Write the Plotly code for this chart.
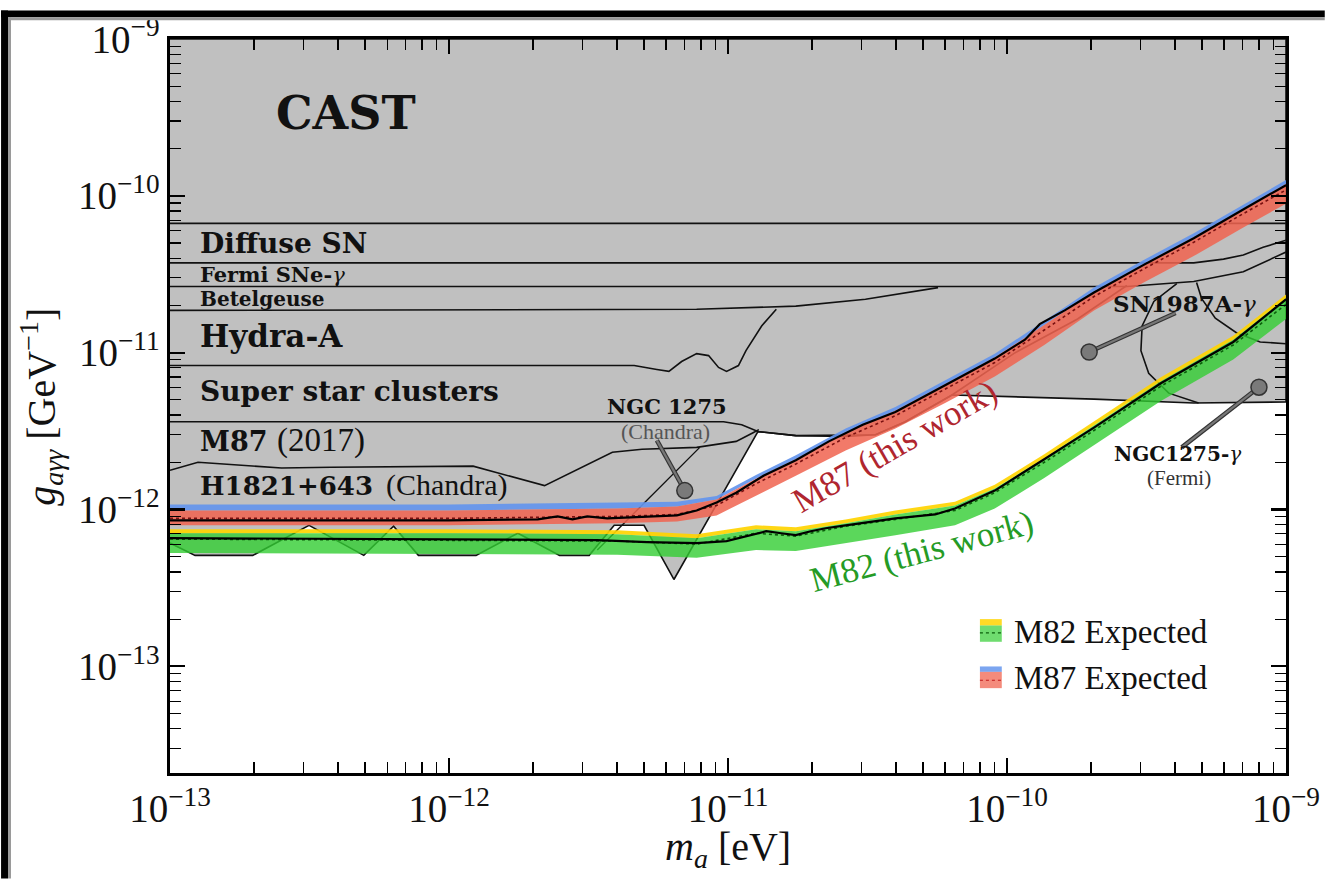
import numpy as np
import plotly.graph_objects as go

# ---------------- data (mass in eV, coupling in GeV^-1) ----------------
# grey excluded envelope (union of astrophysical / CAST bounds)
excl_mass = [1e-13, 1e-9, 1e-9, 4.67e-10, 2.05e-10, 6.35e-11, 4.32e-11, 3.38e-11, 2.64e-11,
             1.75e-11, 1.28e-11, 6.40e-12, 5.0e-12, 3.91e-12, 3.18e-12, 2.49e-12, 1.765e-12,
             1.25e-12, 7.77e-13, 6.33e-13, 4.95e-13, 3.15e-13, 1.98e-13, 1.23e-13, 1e-13]
excl_g = [1e-9, 1e-9, 4.85e-12, 4.78e-12, 5.06e-12, 5.37e-12, 3.63e-12, 3.0e-12, 2.92e-12,
          2.96e-12, 3.14e-12, 3.58e-13, 7.93e-13, 7.93e-13, 5.1e-13, 5.1e-13, 7.06e-13,
          5.1e-13, 5.1e-13, 7.82e-13, 5.1e-13, 7.93e-13, 5.1e-13, 5.1e-13, 6.11e-13]

cast_mass = [1e-13, 1e-9]
cast_g = [6.67e-11, 6.67e-11]
diffsn_mass = [1e-13, 4.67e-10, 5.97e-10, 7.03e-10, 8.28e-10, 1e-9]
diffsn_g = [3.74e-11, 3.74e-11, 3.95e-11, 4.19e-11, 4.7e-11, 5.21e-11]
fermi_mass = [1e-13, 2.69e-10, 4.67e-10, 7.03e-10, 1e-9]
fermi_g = [2.64e-11, 2.64e-11, 2.84e-11, 3.28e-11, 4.38e-11]
betel_mass = [1e-13, 7.72e-12, 1.75e-11, 3.11e-11, 5.66e-11]
betel_g = [1.86e-11, 1.89e-11, 1.98e-11, 2.19e-11, 2.60e-11]
hydra_mass = [1e-13, 4.61e-12, 5.56e-12, 6.14e-12, 6.82e-12, 7.72e-12, 8.52e-12, 9.25e-12,
              9.88e-12, 1.09e-11, 1.16e-11, 1.32e-11, 1.49e-11]
hydra_g = [8.28e-12, 8.28e-12, 7.82e-12, 7.6e-12, 8.78e-12, 9.86e-12, 9.58e-12, 8.05e-12,
           7.6e-12, 8.28e-12, 1.03e-11, 1.48e-11, 1.89e-11]
ssc_mass = [1e-13, 9.64e-12, 1.12e-11, 1.28e-11, 1.75e-11, 3.38e-11, 4.32e-11, 6.35e-11,
            1.07e-10, 1.79e-10, 2.69e-10]
ssc_g = [3.63e-12, 3.63e-12, 3.47e-12, 3.14e-12, 2.96e-12, 3.0e-12, 3.63e-12, 5.37e-12,
         1.0e-11, 1.64e-11, 2.68e-11]
m87old_mass = [1e-13, 1.26e-13, 2.51e-13, 3.78e-13, 1.22e-12, 2.20e-12, 3.85e-12, 4.92e-12,
               7.72e-12, 1.07e-11, 1.23e-11, 1.29e-11]
m87old_g = [1.78e-12, 2.0e-12, 1.84e-12, 1.86e-12, 1.89e-12, 1.42e-12, 2.32e-12, 2.42e-12,
            2.49e-12, 2.72e-12, 3.09e-12, 3.23e-12]
ngc_diag_mass = [7.92e-12, 3.40e-12]
ngc_diag_g = [2.49e-12, 5.52e-13]
sn_loop_mass = [4.06e-10, 3.36e-10, 3.05e-10, 3.02e-10, 3.22e-10, 3.80e-10, 4.86e-10]
sn_loop_g = [2.76e-11, 2.12e-11, 1.48e-11, 1.03e-11, 7.38e-12, 5.52e-12, 4.78e-12]
sn_inner_mass = [4.78e-10, 4.98e-10, 5.58e-10, 6.64e-10, 8.08e-10, 1e-9]
sn_inner_g = [2.80e-11, 2.22e-11, 1.66e-11, 1.34e-11, 1.17e-11, 1.14e-11]

# M87 expected bands and observed limit
m87_mass = [1.0e-13, 9.94e-13, 4.01e-12, 6.56e-12, 9.10e-12, 1.26e-11, 1.75e-11, 2.64e-11,
            3.98e-11, 6.0e-11, 9.04e-11, 1.36e-10, 2.05e-10, 3.09e-10, 4.67e-10, 7.03e-10, 1e-9]
m87_blue_hi = [1.075e-12, 1.075e-12, 1.11e-12, 1.12e-12, 1.22e-12, 1.66e-12, 2.22e-12, 3.28e-12,
               4.51e-12, 6.67e-12, 9.86e-12, 1.59e-11, 2.60e-11, 3.90e-11, 5.77e-11, 8.78e-11, 1.26e-10]
m87_red_hi = [9.86e-13, 9.86e-13, 1.015e-12, 1.045e-12, 1.16e-12, 1.57e-12, 2.09e-12, 3.09e-12,
              4.26e-12, 6.29e-12, 9.30e-12, 1.50e-11, 2.45e-11, 3.68e-11, 5.44e-11, 8.28e-11, 1.19e-10]
m87_red_lo = [7.93e-13, 7.93e-13, 8.16e-13, 8.40e-13, 9.17e-13, 1.22e-12, 1.64e-12, 2.38e-12,
              3.28e-12, 4.78e-12, 7.06e-12, 1.12e-11, 1.86e-11, 2.80e-11, 4.13e-11, 6.29e-11, 8.91e-11]
m87_median = [8.78e-13, 8.78e-13, 9.04e-13, 9.30e-13, 1.06e-12, 1.46e-12, 1.95e-12, 2.88e-12,
              3.96e-12, 5.85e-12, 8.65e-12, 1.395e-11, 2.28e-11, 3.42e-11, 5.06e-11, 7.70e-11, 1.09e-10]
m87_obs_mass = [1.0e-13, 9.94e-13, 2.08e-12, 2.45e-12, 2.77e-12, 3.13e-12, 3.69e-12, 4.72e-12,
                6.56e-12, 7.72e-12, 9.10e-12, 1.07e-11, 1.34e-11, 1.75e-11, 2.30e-11, 3.04e-11,
                3.98e-11, 6.0e-11, 9.04e-11, 1.16e-10, 1.31e-10, 1.61e-10, 2.05e-10, 3.09e-10,
                4.67e-10, 7.20e-10, 1e-9]
m87_obs = [8.53e-13, 8.53e-13, 8.65e-13, 9.04e-13, 8.65e-13, 9.04e-13, 8.78e-13, 8.91e-13,
           9.17e-13, 9.86e-13, 1.11e-12, 1.28e-12, 1.64e-12, 2.06e-12, 2.72e-12, 3.47e-12,
           4.19e-12, 6.20e-12, 9.17e-12, 1.21e-11, 1.52e-11, 1.86e-11, 2.42e-11, 3.63e-11,
           5.37e-11, 8.40e-11, 1.17e-10]

# M82 expected bands and observed limit
m82_mass = [1.0e-13, 9.94e-13, 4.01e-12, 7.72e-12, 1.26e-11, 1.75e-11, 2.64e-11, 3.98e-11,
            6.51e-11, 9.04e-11, 1.36e-10, 2.05e-10, 3.56e-10, 6.47e-10, 1e-9]
m82_yellow_hi = [7.48e-13, 7.48e-13, 7.38e-13, 6.96e-13, 7.93e-13, 7.70e-13, 8.65e-13, 9.86e-13,
                 1.12e-12, 1.44e-12, 2.25e-12, 3.63e-12, 6.96e-12, 1.28e-11, 2.35e-11]
m82_green_hi = [7.06e-13, 7.06e-13, 6.96e-13, 6.57e-13, 7.48e-13, 7.27e-13, 8.16e-13, 9.30e-13,
                1.06e-12, 1.36e-12, 2.12e-12, 3.42e-12, 6.57e-12, 1.21e-11, 2.22e-11]
m82_green_lo = [5.29e-13, 5.21e-13, 5.14e-13, 4.92e-13, 5.52e-13, 5.44e-13, 6.11e-13, 6.86e-13,
                7.93e-13, 1.015e-12, 1.59e-12, 2.56e-12, 4.92e-12, 9.04e-12, 1.64e-11]
m82_median = [6.48e-13, 6.38e-13, 6.29e-13, 6.02e-13, 7.06e-13, 6.76e-13, 7.82e-13, 8.65e-13,
              9.86e-13, 1.28e-12, 2.0e-12, 3.19e-12, 6.11e-12, 1.12e-11, 2.03e-11]
m82_obs_mass = [1.0e-13, 9.94e-13, 3.40e-12, 5.13e-12, 7.72e-12, 9.88e-12, 1.16e-11, 1.37e-11,
                1.55e-11, 1.75e-11, 1.98e-11, 2.24e-11, 2.64e-11, 3.38e-11, 3.98e-11, 5.53e-11,
                6.51e-11, 7.67e-11, 9.04e-11, 1.36e-10, 2.05e-10, 3.56e-10, 6.47e-10, 1e-9]
m82_obs = [6.57e-13, 6.48e-13, 6.38e-13, 6.20e-13, 6.11e-13, 6.29e-13, 6.76e-13, 7.27e-13,
           7.06e-13, 6.86e-13, 7.27e-13, 7.60e-13, 7.93e-13, 8.40e-13, 8.78e-13, 9.30e-13,
           1.015e-12, 1.16e-12, 1.32e-12, 2.09e-12, 3.33e-12, 6.38e-12, 1.17e-11, 2.19e-11]

# label pointers (line end -> marker)
ngc_chandra_ptr_mass = [5.56e-12, 7.0e-12]
ngc_chandra_ptr_g = [2.76e-12, 1.32e-12]
sn_ptr_mass = [4.02e-10, 1.97e-10]
sn_ptr_g = [1.79e-11, 1.01e-11]
ngc_fermi_ptr_mass = [4.23e-10, 8.0e-10]
ngc_fermi_ptr_g = [2.49e-12, 6.02e-12]

x_ticks = [1e-13, 1e-12, 1e-11, 1e-10, 1e-9]
x_ticktext = ["10<sup>−13</sup>", "10<sup>−12</sup>", "10<sup>−11</sup>", "10<sup>−10</sup>", "10<sup>−9</sup>"]
y_ticks = [1e-13, 1e-12, 1e-11, 1e-10, 1e-9]
y_ticktext = ["10<sup>−13</sup>", "10<sup>−12</sup>", "10<sup>−11</sup>", "10<sup>−10</sup>", "10<sup>−9</sup>"]

# ---------------- figure ----------------
W, H = 1332, 880
L, R, T, B = 170, 1293, 29, 773


def px(x):
    return (x - L) / (R - L)


def py(y):
    return (B - y) / (B - T)


GREY = "#c0c0c0"
fig = go.Figure()


def line(xs, ys, color="#111111", width=1.6, dash="solid"):
    fig.add_trace(go.Scatter(x=xs, y=ys, mode="lines", line=dict(color=color, width=width, dash=dash),
                             hoverinfo="skip", showlegend=False))


def band(mass, hi, lo, color):
    xs = list(mass) + list(mass[::-1])
    ys = list(hi) + list(lo[::-1])
    fig.add_trace(go.Scatter(x=xs, y=ys, mode="lines", fill="toself", fillcolor=color,
                             line=dict(width=0), hoverinfo="skip", showlegend=False))


# grey excluded region
fig.add_trace(go.Scatter(x=excl_mass, y=excl_g, mode="lines", fill="toself", fillcolor=GREY,
                         line=dict(color="#111111", width=1.6), hoverinfo="skip", showlegend=False))
for xs, ys in [(cast_mass, cast_g), (diffsn_mass, diffsn_g), (fermi_mass, fermi_g),
               (betel_mass, betel_g), (hydra_mass, hydra_g), (ssc_mass, ssc_g),
               (m87old_mass, m87old_g), (sn_loop_mass, sn_loop_g), (sn_inner_mass, sn_inner_g)]:
    line(xs, ys)
line(ngc_diag_mass, ngc_diag_g, width=1.4)

# bands
band(m82_mass, m82_yellow_hi, m82_green_hi, "rgba(255,212,0,0.92)")
band(m82_mass, m82_green_hi, m82_green_lo, "rgba(50,205,50,0.80)")
band(m87_mass, m87_blue_hi, m87_red_hi, "rgba(100,149,237,0.92)")
band(m87_mass, m87_red_hi, m87_red_lo, "rgba(240,100,80,0.86)")

# median expected and observed limits
line(m82_mass, m82_median, color="#0b5e0b", width=1.6, dash="dot")
line(m87_mass, m87_median, color="#7a1010", width=1.6, dash="dot")
line(m82_obs_mass, m82_obs, color="#000000", width=2.2)
line(m87_obs_mass, m87_obs, color="#000000", width=2.2)

# pointers
for xs, ys in [(ngc_chandra_ptr_mass, ngc_chandra_ptr_g), (sn_ptr_mass, sn_ptr_g),
               (ngc_fermi_ptr_mass, ngc_fermi_ptr_g)]:
    line(xs, ys, color="#333333", width=4.5)
    line(xs, ys, color="#777777", width=2.2)
fig.add_trace(go.Scatter(x=[ngc_chandra_ptr_mass[1], sn_ptr_mass[1], ngc_fermi_ptr_mass[1]],
                         y=[ngc_chandra_ptr_g[1], sn_ptr_g[1], ngc_fermi_ptr_g[1]],
                         mode="markers", marker=dict(size=16, color="#7a7a7a",
                                                     line=dict(color="#333333", width=1.5)),
                         hoverinfo="skip", showlegend=False))

# ---------------- annotations ----------------
BOLD = "DejaVu Serif"
REG = "Liberation Serif"


def ann(text, xp, yp, size, color="#111111", family=BOLD, xanchor="left", angle=0):
    fig.add_annotation(x=px(xp), y=py(yp), xref="paper", yref="paper", text=text, showarrow=False,
                       font=dict(size=size, color=color, family=family), xanchor=xanchor,
                       yanchor="middle", textangle=angle)


ann("<b>CAST</b>", 275, 104, 46)
ann("<b>Diffuse SN</b>", 198, 236, 28)
ann("<b>Fermi SNe-</b><i>γ</i>", 198, 268, 21)
ann("<b>Betelgeuse</b>", 198, 293, 20)
ann("<b>Hydra-A</b>", 198, 330, 31)
ann("<b>Super star clusters</b>", 198, 386, 28)
ann("<b>M87</b>", 198, 437, 27)
ann("(2017)", 276, 436, 33, family=REG)
ann("<b>H1821+643</b>", 198, 482, 26)
ann("(Chandra)", 385, 481, 30, family=REG)
ann("<b>NGC 1275</b>", 670, 401, 21, xanchor="center")
ann("(Chandra)", 669, 427, 22, color="#555555", family=REG, xanchor="center")
ann("<b>SN1987A-</b><i>γ</i>", 1117, 297, 23)
ann("<b>NGC1275-</b><i>γ</i>", 1118, 450, 20)
ann("(Fermi)", 1185, 474, 21, color="#333333", family=REG, xanchor="center")
ann("M87 (this work)", 899, 442, 35, color="#b0262f", family=REG, xanchor="center", angle=-30)
ann("M82 (this work)", 926, 548, 35, color="#259b25", family=REG, xanchor="center", angle=-15)

# axis titles
ann("<i>g</i><sub><i>aγγ</i></sub> [GeV<sup>−1</sup>]", 40, 402, 40, family=REG, xanchor="center", angle=-90)
ann("<i>m</i><sub><i>a</i></sub> [eV]", 732, 850, 40, family=REG, xanchor="center")

# legend
ann("M82 Expected", 1017, 630, 33, family=REG)
ann("M87 Expected", 1017, 677, 33, family=REG)
shapes = []


def rect(x0, x1, y0, y1, color):
    shapes.append(dict(type="rect", xref="paper", yref="paper", x0=px(x0), x1=px(x1),
                       y0=py(y1), y1=py(y0), fillcolor=color, line=dict(width=0), layer="above"))


rect(985, 1007, 617, 623.5, "rgba(255,212,0,0.85)")
rect(985, 1007, 623.5, 640, "rgba(50,205,50,0.7)")
rect(985, 1007, 665, 670.5, "rgba(100,149,237,0.85)")
rect(985, 1007, 670.5, 687, "rgba(240,100,80,0.75)")
for yy, col in [(631, "#0b5e0b"), (679, "#c01818")]:
    shapes.append(dict(type="line", xref="paper", yref="paper", x0=px(985), x1=px(1007),
                       y0=py(yy), y1=py(yy), line=dict(color=col, width=1.2, dash="dot"), layer="above"))

# outer frame (top & left)
rect(0, 7, 0, H, "#000000")
rect(0, W, 0, 7, "#000000")
rect(7, 10, 7, H, "#9a9a9a")
rect(7, W, 7, 10, "#9a9a9a")

minor_vals = [k * 10.0 ** e for e in range(-15, -8) for k in range(2, 10)]

axis_common = dict(type="log", showgrid=False, zeroline=False, showline=True, linewidth=2.6,
                   linecolor="#000000", mirror="allticks", ticks="inside", ticklen=15, tickwidth=2.2,
                   tickcolor="#000000", tickfont=dict(family=REG, size=39, color="#111111"),
                   minor=dict(tickmode="array", tickvals=minor_vals, ticks="inside", ticklen=11,
                              tickwidth=1.2, tickcolor="#000000", showgrid=False))

fig.update_layout(
    width=W, height=H, autosize=False,
    margin=dict(l=L, r=W - R, t=T, b=H - B),
    paper_bgcolor="white", plot_bgcolor="white",
    font=dict(family=REG, color="#111111"),
    showlegend=False,
    shapes=shapes,
    xaxis=dict(range=[-13, -9], tickmode="array", tickvals=x_ticks, ticktext=x_ticktext, **axis_common),
    yaxis=dict(range=[-13.68, -9], tickmode="array", tickvals=y_ticks, ticktext=y_ticktext, **axis_common),
)

fig.write_html("out.html", config={"displayModeBar": False, "staticPlot": True},
               post_script="document.body.style.margin='0px';document.body.style.overflow='hidden';")
